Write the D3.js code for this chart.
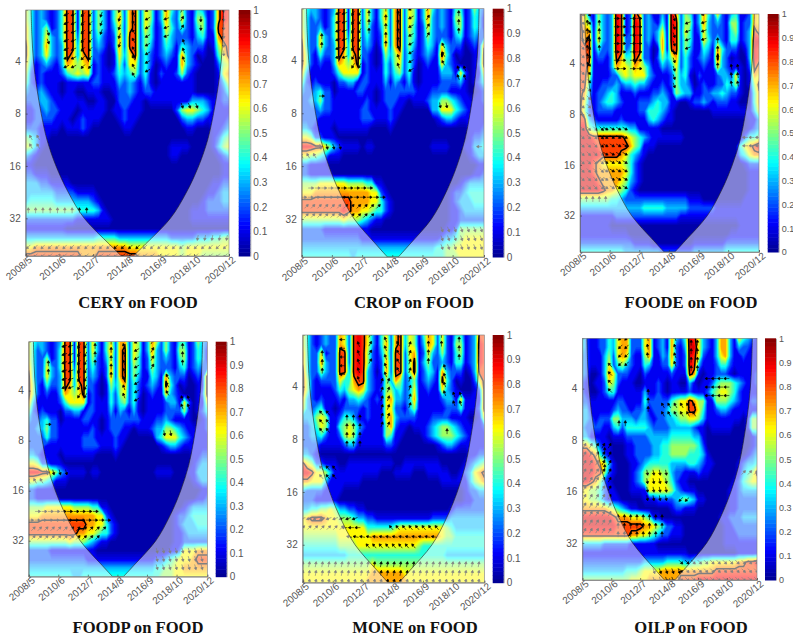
<!DOCTYPE html>
<html>
<head>
<meta charset="utf-8">
<script src="https://cdn.jsdelivr.net/npm/d3@7"></script>
<style>
  html, body { margin: 0; background: #fff; }
  .tick text { font-family: "Liberation Sans", Arial, sans-serif; fill: #555; }
  .title { font-family: "Liberation Serif", serif; font-weight: bold; font-size: 16.6px; fill: #111; text-anchor: middle; }
</style>
</head>
<body>
<script>
// coherence, one digit per cell (0-9 = tenths), 40 columns x 28 scales
const cery = [
"6423212488 1882531462 7826513742 5214312798","6423212488 1882531472 7826513732 6215512798",
"7423512488 1882531362 7826412642 4214512888","7423632488 2882421272 8825412532 2213411788",
"8423732388 3882320272 8825312431 4322201578","8423632387 3782210163 6824212321 7320100468",
"7312321376 5671210152 6624201211 7321000256","6212111245 6561211243 4524102112 5210000167",
"5212111011 1112211132 3213101111 1110000136","3223211011 0011100122 3212211111 1110000124",
"2223321111 1100110022 2110111111 1133321122","1122322111 0111110112 1110000002 5665431111",
"1122221110 1211100012 1100000000 2332211112","2221111011 1210000001 1000000000 0110001123",
"5431100000 0000000000 0000000000 0000001245","6531000000 0000000000 0000000011 1100001356",
"3210000000 0000000000 0000000011 0000000123","1100000000 0000000000 0000000000 0000000011",
"2211100000 0000000000 0000000000 0000000011","3332211110 0000000000 0000000000 0000001122",
"3333332222 1111000000 0000000000 0000011233","3444443333 3332100000 0000000000 0000122233",
"5555555555 4444310000 0000000000 0011122222","2222222222 1111111000 0000000000 0011111111",
"1111111100 0000000000 0000000000 0000000000","3333333333 3333444433 3333333322 2223334455",
"6677777777 7777777777 6666666666 5666666666","8888888888 8777888888 8877776666 5666555555"];
const crop = [
"6433212388 1882631462 7826513742 3214412532","6423212488 1882631472 7826513732 3215512431",
"6422312488 1882521362 7826412632 3214512431","7422632488 2882421272 7825412532 2213412322",
"8422632388 3882320272 7825312431 6322201217","8521422387 3782210153 5724212321 8420100118",
"8521211376 5681210142 5624201211 6321000128","7311111246 6661211142 4524101111 3331620116",
"5212111022 3312211131 3213101111 2222310124","3223422011 1122110122 2222211122 2211110012",
"2233522111 1111210122 2110111233 5543211112","2222322111 1112211112 1100000033 6664321111",
"2222111111 1112221112 1000000001 2332111111","3321111011 1111100001 0000000000 0000001112",
"6652211100 0000000000 0000000000 0000001223","9998865321 1110110000 0000000011 1100011334",
"6655431110 0000000000 0000000000 0000001233","2211110000 0000000000 0000000000 0000000011",
"2211111000 0000000000 0000000000 0000000112","5555666666 5555441100 0000000000 0000123333",
"6667777777 7777766210 0000000000 0012234444","8888888888 8777766421 0000000000 0012333444",
"8888888889 8776654421 0000000000 0011233333","5555555556 5554321100 0000000000 0011222222",
"2222211111 1111100000 0000000000 0112555555","2222222222 2221111111 1111111111 2334566666",
"3333333333 3333333333 3333333334 4556666666","4444444444 4344444444 4444444444 4555666666"];
const foode = [
"8621532398 1287231131 9725413742 6213411276","8651532398 1298232141 9825513732 3215512276",
"8771632398 1298232361 9826412632 2214512387","8781632398 2298231371 9825411642 4214412399",
"8881422398 2398220171 8825311431 7422201398","8881221387 4487220253 5724212321 8320100398",
"8871111376 6576531132 3624211211 6321110287","8861111225 6566632111 2534102111 2332610176",
"8841122232 3343321121 2533201211 2243510158","8731223431 1121112232 1543311223 3432210047",
"8621234432 1112223433 1100122321 2221100047","8521222211 1112244432 1000000001 1111111136",
"8832111112 1111134321 1000000000 0000000113","9954444444 4331111100 0000000000 0000000123",
"9998888888 7654321111 1110000000 0000002445","9999888888 8754111000 0000000000 0000046789",
"9999988887 6432100000 0000000000 0000034677","9998766666 5421000000 0000000000 0000001222",
"9998777777 6421000000 0000000000 0000000111","9999877776 5321000000 0000000000 0000000111",
"9999987765 4210000000 0000000000 0000000111","5555555443 2222222222 2222111000 0000001111",
"3333333333 3333444443 3333222222 1111111111","1111111122 2222222222 2211111111 1111111111",
"1111111000 0000000000 0000000000 0000011111","1111111111 1000000000 0000000000 0001111111",
"2222222222 2211110000 0000011111 1122222222","4444444444 3333333322 2222233333 3344444444"];
const foodp = [
"6433212388 1882631462 7726513752 5214412532","6423212488 1882631472 7826513732 5215512431",
"6422512488 1882521362 7826412632 3214512431","7422632488 2882421272 7825412532 2213412322",
"8422632388 3882320272 7825311431 7322201218","8521422387 3782210153 5724212321 8420100118",
"8521211376 5681210142 5624201211 6321000128","7311111246 6661211142 4524101111 2331620116",
"5212111022 3312211131 3213101111 2222510124","3223422011 1122110122 2222211122 3211110012",
"2233522111 1111210122 2110111233 5543211112","2222422111 1122211112 1100000034 6664321111",
"2222111111 1122221112 1000000001 2332111111","3321111011 1111100001 0000000000 0000001122",
"6652211100 0000000000 0000000000 0000001233","9998865321 1110110000 0000000011 1100011333",
"6655431110 0000000000 0000000000 0000001233","2211110000 0000000000 0000000000 0000000011",
"2211111000 0000000000 0000000000 0000000112","5555666666 5555441100 0000000000 0000123333",
"6667777777 7777766210 0000000000 0012234444","8888888888 8887766421 0000000000 0012333444",
"8888888888 8776654421 0000000000 0011233333","5555555556 5554321100 0000000000 0011222222",
"2222211111 1111100000 0000000000 0112666777","2222222222 2221111111 1111111122 3456667888",
"3333333333 3333333333 3333333344 5566777777","4444444444 3344444444 4444444445 5566666666"];
const mone = [
"6421232276 2898631462 7836514762 6214412388","6421232276 2898631472 7836513762 6215512398",
"7422612288 2898521362 8826712632 5214512398","7422732288 2898521272 8825813522 3214412398",
"8422532288 3898320272 8825812431 7322201388","8521222264 4788321153 7523512321 8420100268",
"8521111243 5676321255 3423611211 6321000128","7321211121 3343212167 3323711111 2331611118",
"6323411012 2221211166 2213511111 1222411128","3335651124 4311211167 3222211122 2211110016",
"2234651145 6532111157 2110111234 5543211112","2233421125 6521111154 1100001234 5554321111",
"2222111112 3311111122 1000000001 2332111111","3321000000 0000000000 0000000000 0000001122",
"8652211100 1111111111 0011111111 0000012345","9986653111 1111111000 1111000111 1100123678",
"7766631111 1110000000 0000000000 1111113567","3222211110 0000000000 0000000000 0000012233",
"2221111100 0000000000 0000000000 0000011222","3344556533 2211000000 0000000000 0012222222",
"6788876655 5433221111 1111111122 2233333333","6666666666 6666444444 5666666666 6543333333",
"5555555566 6666677777 7777777777 6554444444","4444444455 5566666666 6666654444 4444444444",
"3333333333 4444444444 4444444444 4333333333","5555555555 5555565555 5555555555 5555555555",
"6666666666 6666677777 7766666666 6666666666","7666666666 6666777777 7776666666 6666666666"];
const oilp = [
"4211224367 7222671231 7324986321 3773164321","4211224367 7222671231 7213996321 3773132211",
"3211135267 6211571132 7212986211 3673112111","3211136245 3211431122 6212983111 2442111111",
"3200137622 2110211111 2111871011 2221011112","2101126521 1100111210 1100310112 4555432112",
"2100124411 1111311210 1111211124 5665421111","2211111122 1111422222 4566875511 5554321122",
"3311111232 2122312223 5566886411 2332111111","3321222553 3323321223 3455665311 1111110155",
"3222211342 4444432222 3333321101 1111000155","3311110111 2222233333 4444433100 0000000012",
"7754211000 1122223344 5555554200 0000000012","9987421000 1122223344 5555444310 0000000123",
"9998763100 0112344444 3333443211 0000012334","9998852100 0123556655 3221112110 0000013458",
"9987521000 0123566665 4211000000 0000124566","6655421100 0111166666 5321110000 0001123333",
"6655421110 0000111222 2345431100 0001122222","7777776543 2110000000 1221110000 0001122222",
"9999999877 7666541100 0000000000 0112223333","9999999988 8888776542 2110000000 0011222222",
"8888888888 8776654322 1110000000 0011122222","3333322222 2111111000 0000000000 0011111111",
"1111111111 1111111111 1111000000 0000011111","2222222222 2222333334 4443344556 6666677889",
"3333333333 4445666677 7777777777 8888888888","5555555555 5666677777 7788889999 9999999999"];

// what each digit stands for on the colour bar
const digitValues = [0.03, 0.1, 0.2, 0.31, 0.41, 0.52, 0.62, 0.72, 0.82, 0.9];

// phase arrows: blocks of [col from, col to, row from, row to, direction in degrees]
const ceryArrows = [[4.3,4.3,2.5,4,-70],[7.8,9.2,0.5,6.5,205],[11,12.4,0.5,7,225],[14.5,14.5,0.5,3,250],[18,18,0,4,250],
  [20.7,20.7,0.5,7.5,120],[23.4,23.4,0,7.5,210],[27,27,0,3,200],[30,30,0,2,60],[30.3,30.3,3.5,6,110],[33.6,33.6,1,2.5,270],
  [38,38,0,5,270],[30,33,10.5,10.5,-70],[0.5,12,22,22,90],[0.5,39,26,27,225],[33,39,25,25,260],[1,2.4,14,15,120]];
const cropArrows = [[4.3,4.3,3,4,90],[4.3,4.3,9.5,9.5,0],[7.8,9.2,0.5,6,200],[11,12.4,0.5,7,240],[14.4,14.4,0.5,3,90],[18,18,0,4,90],
  [20.7,20.7,0.5,7,110],[23.4,23.4,0,7,210],[27,27,0,3,60],[30.3,30.3,4,6,120],[33.5,34.9,6.5,8,110],[33.6,33.6,0.5,3,90],
  [29.6,31,10.5,10.5,-80],[4,8.2,15,15,-75],[2,15,19.5,19.5,0],[0.5,18,20.5,20.5,0],[1,17,21.5,21.5,45],[1,15,22.5,22.5,45],
  [30,39,24,26.5,-70],[38,38,15,15,180],[0,3,16,16,120]];
const foodeArrows = [[1.6,1.6,1,6,90],[4.2,4.2,1,4,90],[8,9.4,0.5,7,0],[11.5,13,0.5,7,0],[20.5,20.5,0.5,9,-70],[23.5,23.5,1,4,200],
  [27,27,0,3,200],[30,30,3,6,90],[33,34.4,6,8,100],[0.5,5,13,20,-45],[5.6,10.5,13,20,-30],[0,6,21,21,90],[36,39,14,15,180],[0.5,2,0,12,-45]];
const foodpArrows = [[4.3,4.3,2.5,4,90],[4.3,4.3,9.5,9.5,0],[7.8,9.2,0.5,6,200],[11,12.4,0.5,7,240],[14.5,14.5,0.5,3,90],[18,18,0,4,90],
  [20.8,20.8,0.5,7,110],[23.6,23.6,0,7,210],[27,27,0,3,60],[30.3,30.3,4,6,120],[33.5,34.9,6.5,8,110],[33.6,33.6,0.5,3,90],
  [29.6,31,10.5,10.5,-80],[4,8.2,15,15,-75],[2,15,19.5,19.5,0],[0.5,18,20.5,20.5,0],[1,17,21.5,21.5,45],[1,15,22.5,22.5,45],
  [28,39,24,26.5,-75],[0,3,16,16,120]];
const moneArrows = [[4.2,4.2,2,4,90],[4,5.4,8.5,10.5,130],[9.5,12.4,9,12,90],[8.5,8.5,0.5,5,180],[12,12,1,5.5,110],[14.5,14.5,0,3,60],
  [17.8,17.8,0.5,5,110],[20.5,20.5,0,4,120],[17,19,5,10,70],[23,23,1,8,70],[27,27,0,3,90],[29.8,29.8,0,1.5,90],[30.5,30.5,3.5,6.5,110],
  [33.6,33.6,0.5,3,90],[31,31,10.5,10.5,90],[32.5,34,6.5,8,110],[4,7,14.5,15.5,130],[0,12,20,20,200],[0,9,21,21,45],[9,13,21,21,180],
  [19,29,21,21,130],[10,29,22,22,170],[14,24,23,23,130],[0,39,25,27,80]];
const oilpArrows = [[6.2,6.2,3,6,135],[8.5,10,0,3,225],[14.6,15.9,0,2.5,100],[14.7,14.7,6,8,90],[20.7,20.7,0,3,110],[24.3,25.7,0.5,4,90],
  [18,26,7.5,9,120],[28,33,4.5,7,180],[8.2,9.6,9.5,9.5,90],[14.5,19,15,18,-80],[22,23.4,18,18,225],[5,5,12.5,15,90],[8,19,20,22,90],
  [0.5,7,12,22,60],[16,22,26,27,-70],[22,39,25,27,-45],[36,39,15,15,45]];

const titles = ["CERY on FOOD", "CROP on FOOD", "FOODE on FOOD", "FOODP on FOOD", "MONE on FOOD", "OILP on FOOD"];
const grids = [cery, crop, foode, foodp, mone, oilp];
const arrowSets = [ceryArrows, cropArrows, foodeArrows, foodpArrows, moneArrows, oilpArrows];

const tickMonths = [0, 25, 50, 75, 100, 125, 151];
const tickLabels = ["2008/5", "2010/6", "2012/7", "2014/8", "2016/9", "2018/10", "2020/12"];
const periodTicks = [4, 8, 16, 32];
const colorTicks = d3.range(0, 11).map(d => d / 10);

// cone of influence: months from either end at each period
const coiPeriod = [2.03, 2.83, 4, 5.66, 8, 11.3, 16, 22.6, 32, 45, 52.7];
const coiMonths = [4, 4.6, 5.8, 8.2, 11.5, 15.8, 22.5, 31.5, 43.5, 62, 71];

// where each panel sits on the page
const layout = [
  { x0: 25.7, x1: 229, y0: 10, y1: 256, bar: 238.7, barW: 11.6, tx: 138, ty: 308 },
  { x0: 301.7, x1: 484, y0: 8.7, y1: 257, bar: 492.7, barW: 11, tx: 414, ty: 308 },
  { x0: 580, x1: 759, y0: 14, y1: 252, bar: 767.7, barW: 11, tx: 691, ty: 308 },
  { x0: 28.7, x1: 207.3, y0: 341.7, y1: 576.7, bar: 215.7, barW: 11, tx: 138, ty: 633 },
  { x0: 302.7, x1: 484.3, y0: 335, y1: 582.7, bar: 492.7, barW: 11, tx: 415, ty: 633 },
  { x0: 582.3, x1: 757, y0: 338.3, y1: 580, bar: 765, barW: 11, tx: 691, ty: 633 }
];

const nCols = 40, nRows = 28;

var jet = d3.scaleLinear()
  .domain([0, 0.125, 0.375, 0.625, 0.875, 1])
  .range(["#00008f", "#0000ff", "#00ffff", "#ffff00", "#ff0000", "#800000"]);

var svg = d3.select("body").append("svg")
  .attr("width", 793)
  .attr("height", 642)
  .style("display", "block");

var defs = svg.append("defs");
defs.append("filter").attr("id", "soft")
  .append("feGaussianBlur").attr("stdDeviation", 0.55);

var contours = d3.contours().size([nCols, nRows]).smooth(true);
var levels = d3.range(0.02, 1, 0.02);

layout.forEach((p, i) => {
  var width = p.x1 - p.x0, height = p.y1 - p.y0;
  var g = svg.append("g").attr("transform", `translate(${p.x0}, ${p.y0})`);

  var x = d3.scaleLinear().domain([0, 151]).range([0, width]);
  var y = d3.scaleLog().base(2).domain([2.03, 52.7]).range([0, height]);
  // grid cell centres land on the plot edges, contour caps stay outside the clip
  var cx = d3.scaleLinear().domain([0.5, nCols - 0.5]).range([0, width]);
  var cy = d3.scaleLinear().domain([0.5, nRows - 0.5]).range([0, height]);

  var values = grids[i].join("").replace(/ /g, "").split("").map(d => digitValues[+d]);
  var gridPath = d3.geoPath(d3.geoTransform({
    point: function(a, b) { this.stream.point(cx(a), cy(b)); }
  }));

  defs.append("clipPath").attr("id", "clip" + i)
    .append("rect").attr("width", width).attr("height", height);

  var plot = g.append("g").attr("clip-path", `url(#clip${i})`)
    .append("g").attr("filter", "url(#soft)");

  plot.append("rect").attr("x", -2).attr("y", -2)
    .attr("width", width + 4).attr("height", height + 4)
    .attr("fill", jet(0));

  plot.selectAll("path.level")
    .data(levels.map(t => contours.contour(values, t)))
    .join("path")
    .attr("class", "level")
    .attr("d", gridPath)
    .attr("fill", d => jet(d.value + 0.01));

  // significance outline, goes grey under the overlay outside the cone
  plot.append("path")
    .attr("d", gridPath(contours.contour(values, 0.77)))
    .attr("fill", "none")
    .attr("stroke", "#000")
    .attr("stroke-width", 1.5);

  // arrows
  var arrows = [];
  arrowSets[i].forEach(b => {
    d3.range(b[0], b[1] + 0.01, 1.4).forEach(c => {
      d3.range(b[2], b[3] + 0.01, 0.95).forEach(r => {
        arrows.push({ c: c + 0.5, r: r + 0.5, a: b[4] });
      });
    });
  });
  plot.selectAll("path.arrow")
    .data(arrows)
    .join("path")
    .attr("class", "arrow")
    .attr("transform", d => `translate(${cx(d.c)}, ${cy(d.r)}) rotate(${-d.a})`)
    .attr("d", "M-2.8,0L1,0M0.6,-1.3L2.8,0L0.6,1.3Z")
    .attr("fill", "#000")
    .attr("stroke", "#000")
    .attr("stroke-width", 0.6);

  // cone of influence, everything outside is washed out
  var side = d3.line().curve(d3.curveCatmullRom)
    .x(d => d[0]).y(d => d[1]);
  var left = coiPeriod.map((q, k) => [x(coiMonths[k]), y(q)]);
  var right = coiPeriod.map((q, k) => [x(151 - coiMonths[k]), y(q)]).reverse();
  var coi = side(left) + "L" + side(right).slice(1);
  plot.append("path")
    .attr("d", `M-3,-3H${width + 3}V${height + 3}H-3Z M${x(coiMonths[0])},-3L${coi.slice(1)}L${x(151 - coiMonths[0])},-3Z`)
    .attr("fill", "#fff")
    .attr("fill-opacity", 0.5)
    .attr("fill-rule", "evenodd");
  plot.append("path")
    .attr("d", coi)
    .attr("fill", "none")
    .attr("stroke", "#222")
    .attr("stroke-width", 0.6);

  // axes
  var xAxis = g.append("g")
    .attr("transform", `translate(0, ${height})`)
    .call(d3.axisBottom(x).tickValues(tickMonths).tickFormat((d, k) => tickLabels[k]).tickSize(-2).tickPadding(5));
  xAxis.selectAll("text")
    .attr("font-size", 10)
    .attr("text-anchor", "end")
    .attr("transform", "rotate(-40)")
    .attr("dx", "0.2em")
    .attr("dy", "0.3em");

  var yAxis = g.append("g")
    .call(d3.axisLeft(y).tickValues(periodTicks).tickFormat(d => d).tickSize(-2).tickPadding(5));
  yAxis.selectAll("text").attr("font-size", 10);

  g.selectAll(".domain").attr("stroke", "#555").attr("stroke-width", 0.6);
  g.selectAll(".tick line").attr("stroke", "#333").attr("stroke-width", 0.6);

  g.append("rect")
    .attr("width", width).attr("height", height)
    .attr("fill", "none").attr("stroke", "#777").attr("stroke-width", 0.6);

  // colour bar
  var bar = svg.append("g").attr("transform", `translate(${p.bar}, ${p.y0})`);
  var barY = d3.scaleLinear().domain([0, 1]).range([height, 0]);
  var steps = d3.range(0, 64).map(d => d / 64);
  bar.selectAll("rect")
    .data(steps)
    .join("rect")
    .attr("y", d => barY(d + 1 / 64))
    .attr("width", p.barW)
    .attr("height", height / 64 + 0.5)
    .attr("fill", d => jet(d + 1 / 128));
  var barAxis = bar.append("g")
    .attr("transform", `translate(${p.barW}, 0)`)
    .call(d3.axisRight(barY).tickValues(colorTicks).tickFormat(d3.format("")).tickSize(0).tickPadding(3));
  barAxis.selectAll("text").attr("font-size", i == 2 || i == 5 ? 9 : 10);
  barAxis.select(".domain").attr("stroke", "#555").attr("stroke-width", 0.5);

  svg.append("text")
    .attr("class", "title")
    .attr("x", p.tx)
    .attr("y", p.ty)
    .text(titles[i]);
});
</script>
</body>
</html>
